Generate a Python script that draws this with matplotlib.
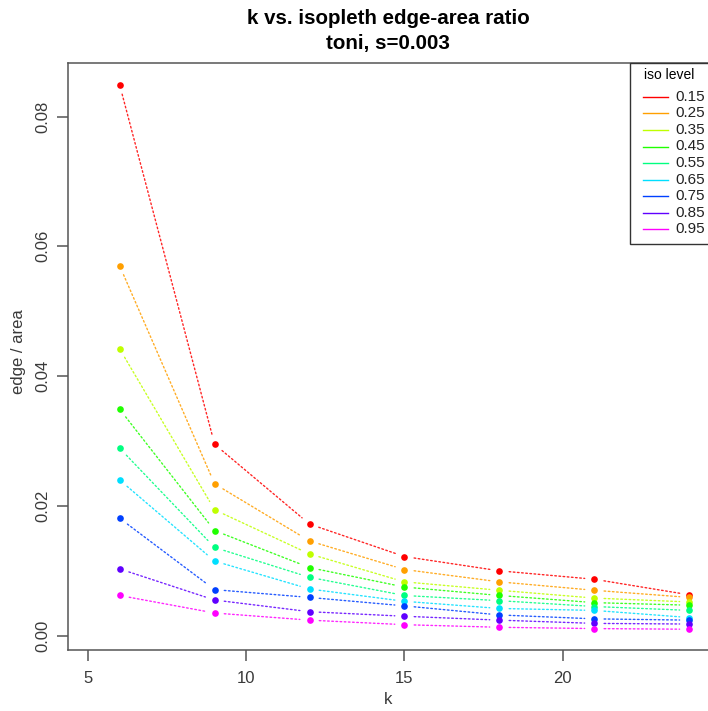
import matplotlib
matplotlib.use("Agg")
import matplotlib.pyplot as plt
from matplotlib.lines import Line2D
from matplotlib.patches import Rectangle

plt.rcParams['font.family'] = ['Liberation Sans', 'DejaVu Sans']

# data
k = [6, 9, 12, 15, 18, 21, 24]
iso_levels = ['0.15', '0.25', '0.35', '0.45', '0.55', '0.65', '0.75', '0.85', '0.95']
ratio_015 = [0.0849, 0.0295, 0.0172, 0.0122, 0.0100, 0.0087, 0.0063]
ratio_025 = [0.0570, 0.0234, 0.0146, 0.0102, 0.0083, 0.0070, 0.0059]
ratio_035 = [0.0442, 0.0194, 0.0126, 0.0083, 0.0070, 0.0058, 0.0052]
ratio_045 = [0.0349, 0.0162, 0.0105, 0.0075, 0.0062, 0.0051, 0.0047]
ratio_055 = [0.0289, 0.0136, 0.0090, 0.0062, 0.0054, 0.0045, 0.0039]
ratio_065 = [0.0240, 0.0115, 0.0072, 0.0053, 0.0042, 0.0039, 0.0028]
ratio_075 = [0.0181, 0.0071, 0.0059, 0.0046, 0.0032, 0.0026, 0.0024]
ratio_085 = [0.0103, 0.0055, 0.0037, 0.0030, 0.0024, 0.0019, 0.0018]
ratio_095 = [0.0062, 0.0035, 0.0024, 0.0017, 0.0013, 0.0011, 0.0010]
series = [ratio_015, ratio_025, ratio_035, ratio_045, ratio_055,
          ratio_065, ratio_075, ratio_085, ratio_095]
# R rainbow(9, end=5/6)
colors = ['#FF0000', '#FF9F00', '#BFFF00', '#20FF00', '#00FF80',
          '#00DFFF', '#0040FF', '#6000FF', '#FF00FF']

W, H = 708, 711
fig = plt.figure(figsize=(W / 100, H / 100), dpi=100)


def fx(px):
    return px / W


def fy(py):
    return 1 - py / H


ax = fig.add_axes([fx(68), fy(650), fx(708) - fx(68), fy(62.7) - fy(650)])
ax.set_xlim(4.368, 24.59)
ax.set_ylim(-0.0022, 0.0883)

grey = '#555555'
for side in ['left', 'bottom', 'top']:
    ax.spines[side].set_color(grey)
    ax.spines[side].set_linewidth(1.1)
ax.spines['right'].set_visible(False)

# type="b": points plus dotted segments with a gap around each point
for vals, c in zip(series, colors):
    for i in range(len(k) - 1):
        ax.annotate('', xy=(k[i + 1], vals[i + 1]), xytext=(k[i], vals[i]),
                    arrowprops=dict(arrowstyle='-', color=c, lw=1.0,
                                    linestyle=(0, (1.2, 1.8)), alpha=0.85,
                                    shrinkA=7, shrinkB=7))
    ax.plot(k, vals, linestyle='none', marker='o', markersize=4.8,
            color=c, markeredgewidth=0)

ax.set_xticks([5, 10, 15, 20])
ax.set_yticks([0.0, 0.02, 0.04, 0.06, 0.08])
ax.set_yticklabels(['0.00', '0.02', '0.04', '0.06', '0.08'],
                   rotation=90, va='center')
ax.tick_params(axis='both', direction='out', length=8, width=1.1,
               color=grey, labelcolor='#3a3a3a', labelsize=12)
ax.tick_params(axis='x', pad=7)
ax.tick_params(axis='y', pad=5)

fig.text(fx(388), fy(18), 'k vs. isopleth edge-area ratio', ha='center',
         va='center', fontsize=14.8, fontweight='bold')
fig.text(fx(388), fy(43), 'toni, s=0.003', ha='center', va='center',
         fontsize=14.8, fontweight='bold')
fig.text(fx(388), fy(700), 'k', ha='center', va='center', fontsize=12,
         color='#3a3a3a')
fig.text(fx(19), fy(352), 'edge / area', ha='center', va='center',
         rotation=90, fontsize=12, color='#3a3a3a')

# legend box (extends past the right edge like the reference)
fig.patches.append(Rectangle((fx(630), fy(244)), fx(760) - fx(630),
                             fy(62.7) - fy(244), transform=fig.transFigure,
                             facecolor='white', edgecolor='#333333', lw=1.0))
fig.text(fx(669), fy(75), 'iso level', ha='center', va='center', fontsize=10)
for j, (lab, c) in enumerate(zip(iso_levels, colors)):
    yy = fy(96.7 + j * 16.6)
    fig.lines.append(Line2D([fx(643), fx(668)], [yy, yy], color=c, lw=1.0,
                            transform=fig.transFigure))
    fig.text(fx(705), yy, lab, ha='right', va='center', fontsize=11,
             color='#222222')

fig.savefig('out.png', dpi=100)
